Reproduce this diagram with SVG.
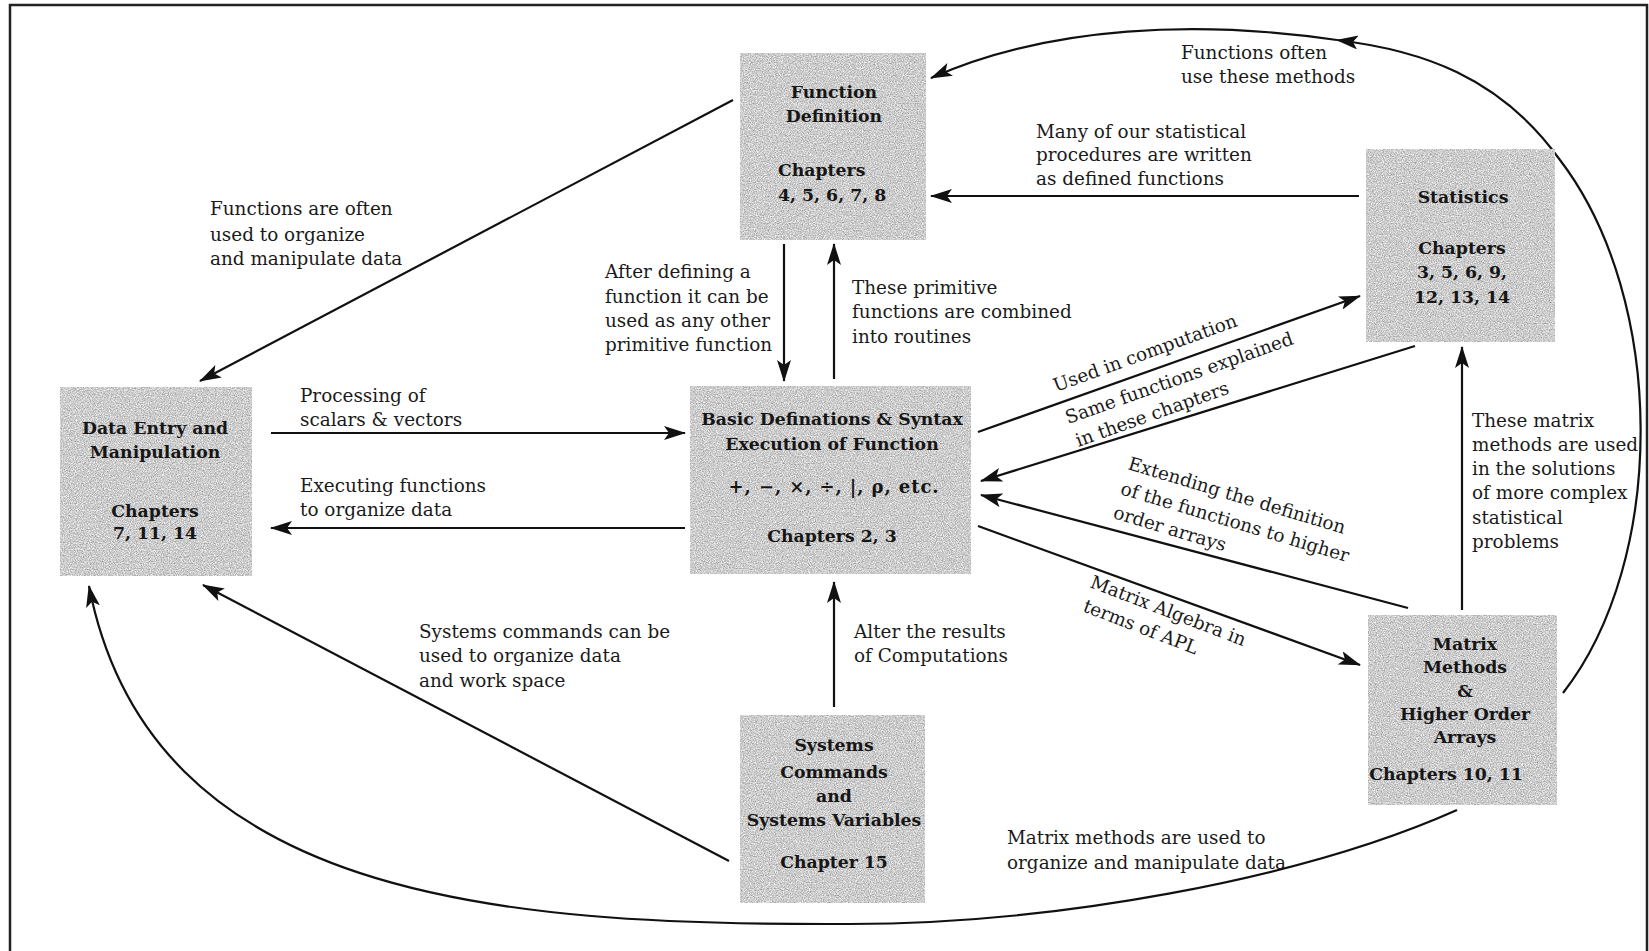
<svg xmlns="http://www.w3.org/2000/svg" width="1649" height="951" viewBox="0 0 1649 951">
<style>
.bg{fill:#ffffff}
.frame{fill:none;stroke:#222;stroke-width:2.5}
.box{fill:#cdcdcd}
.t{font-family:"DejaVu Serif","Liberation Serif",serif;font-weight:bold;font-size:17.3px;fill:#161616}
.l{font-family:"DejaVu Serif","Liberation Serif",serif;font-size:18.4px;fill:#1a1a1a}
.c{fill:none;stroke:#111;stroke-width:2.2}
.a{marker-end:url(#ah)}
</style>
<defs>
<marker id="ah" viewBox="0 0 22 14" refX="21" refY="7" markerWidth="22" markerHeight="14" markerUnits="userSpaceOnUse" orient="auto">
<path d="M0,0 L22,7 L0,14 L5,7 z" fill="#111"/>
</marker>
<filter id="grain" x="0%" y="0%" width="100%" height="100%" color-interpolation-filters="sRGB">
<feTurbulence type="fractalNoise" baseFrequency="0.85" numOctaves="2" seed="7" result="n"/>
<feColorMatrix in="n" type="matrix" values="0.6 0 0 0 0.5  0.6 0 0 0 0.5  0.6 0 0 0 0.5  0 0 0 0 1" result="g"/>
<feComposite in="g" in2="SourceGraphic" operator="in"/>
</filter>
</defs>
<rect class="bg" x="0" y="0" width="1649" height="951"/>
<path class="frame" d="M10,951 V5 H1647 V951"/>

<g id="connectors">
<line class="c a" x1="733" y1="100" x2="200" y2="381"/>
<line class="c a" x1="271" y1="433" x2="685" y2="433"/>
<line class="c a" x1="685" y1="528" x2="271" y2="528"/>
<line class="c a" x1="784" y1="244" x2="784" y2="381"/>
<line class="c a" x1="834" y1="379" x2="834" y2="244"/>
<line class="c a" x1="834" y1="707" x2="834" y2="582"/>
<line class="c a" x1="729" y1="861" x2="203" y2="585"/>
<line class="c a" x1="978" y1="432" x2="1360" y2="296"/>
<line class="c a" x1="1415" y1="346" x2="981" y2="481"/>
<line class="c a" x1="1408" y1="608" x2="981" y2="495"/>
<line class="c a" x1="978" y1="526" x2="1360" y2="665"/>
<line class="c a" x1="1462" y1="610" x2="1462" y2="347"/>
<line class="c a" x1="1359" y1="196" x2="931" y2="196"/>
<path class="c a" d="M1563,693 C1667,560 1667,300 1560,160 C1500,76 1420,50 1337,40"/>
<path class="c a" d="M1337,40 C1200,20 1050,25 931,78"/>
<path class="c a" d="M1457,810 C1300,880 1050,925 842,924 C500,925 150,900 89,586"/>
</g>

<g id="labels">
<text class="l"><tspan x="210" y="215">Functions are often</tspan><tspan x="210" y="241">used to organize</tspan><tspan x="210" y="265">and manipulate data</tspan></text>
<text class="l"><tspan x="300" y="402">Processing of</tspan><tspan x="300" y="426">scalars &amp; vectors</tspan></text>
<text class="l"><tspan x="300" y="492">Executing functions</tspan><tspan x="300" y="516">to organize data</tspan></text>
<text class="l"><tspan x="605" y="278">After defining a</tspan><tspan x="605" y="303">function it can be</tspan><tspan x="605" y="327">used as any other</tspan><tspan x="605" y="351">primitive function</tspan></text>
<text class="l"><tspan x="852" y="294">These primitive</tspan><tspan x="852" y="318">functions are combined</tspan><tspan x="852" y="343">into routines</tspan></text>
<text class="l"><tspan x="854" y="638">Alter the results</tspan><tspan x="854" y="662">of Computations</tspan></text>
<text class="l"><tspan x="419" y="638">Systems commands can be</tspan><tspan x="419" y="662">used to organize data</tspan><tspan x="419" y="687">and work space</tspan></text>
<text class="l"><tspan x="1036" y="138">Many of our statistical</tspan><tspan x="1036" y="161">procedures are written</tspan><tspan x="1036" y="185">as defined functions</tspan></text>
<text class="l"><tspan x="1181" y="59">Functions often</tspan><tspan x="1181" y="83">use these methods</tspan></text>
<text class="l"><tspan x="1472" y="427">These matrix</tspan><tspan x="1472" y="451">methods are used</tspan><tspan x="1472" y="475">in the solutions</tspan><tspan x="1472" y="499">of more complex</tspan><tspan x="1472" y="524">statistical</tspan><tspan x="1472" y="548">problems</tspan></text>
<text class="l"><tspan x="1007" y="844">Matrix methods are used to</tspan><tspan x="1007" y="869">organize and manipulate data</tspan></text>
<text class="l" transform="translate(1056,392) rotate(-20)">Used in computation</text>
<text class="l" transform="translate(1068,424) rotate(-19.5)"><tspan x="0" y="0">Same functions explained</tspan><tspan x="2" y="25">in these chapters</tspan></text>
<text class="l" transform="translate(1127,469) rotate(16.7)"><tspan x="0" y="0">Extending the definition</tspan><tspan x="0" y="26">of the functions to higher</tspan><tspan x="0" y="51">order arrays</tspan></text>
<text class="l" transform="translate(1089,587) rotate(21)"><tspan x="0" y="0">Matrix Algebra in</tspan><tspan x="2" y="25">terms of APL</tspan></text>
</g>

<g id="node-function-definition">
<rect class="box" filter="url(#grain)" x="740" y="53" width="186" height="187"/>
<text class="t" text-anchor="middle"><tspan x="834" y="98">Function</tspan><tspan x="834" y="122">Definition</tspan></text>
<text class="t"><tspan x="778" y="176">Chapters</tspan><tspan x="778" y="201">4, 5, 6, 7, 8</tspan></text>
</g>

<g id="node-statistics">
<rect class="box" filter="url(#grain)" x="1366" y="149" width="189" height="193"/>
<text class="t" text-anchor="middle"><tspan x="1463" y="203">Statistics</tspan><tspan x="1462" y="254">Chapters</tspan><tspan x="1462" y="278">3, 5, 6, 9,</tspan><tspan x="1462" y="303">12, 13, 14</tspan></text>
</g>

<g id="node-data-entry">
<rect class="box" filter="url(#grain)" x="60" y="387" width="192" height="189"/>
<text class="t" text-anchor="middle"><tspan x="155" y="434">Data Entry and</tspan><tspan x="155" y="458">Manipulation</tspan><tspan x="155" y="517">Chapters</tspan><tspan x="155" y="539">7, 11, 14</tspan></text>
</g>

<g id="node-basic">
<rect class="box" filter="url(#grain)" x="690" y="386" width="281" height="188"/>
<text class="t" text-anchor="middle"><tspan x="832" y="425">Basic Definations &amp; Syntax</tspan><tspan x="832" y="450">Execution of Function</tspan><tspan x="834" y="493" font-size="18" letter-spacing="0.9">+, −, ×, ÷, |, ρ, etc.</tspan><tspan x="832" y="542">Chapters 2, 3</tspan></text>
</g>

<g id="node-systems">
<rect class="box" filter="url(#grain)" x="740" y="715" width="185" height="188"/>
<text class="t" text-anchor="middle"><tspan x="834" y="751">Systems</tspan><tspan x="834" y="778">Commands</tspan><tspan x="834" y="802">and</tspan><tspan x="834" y="826">Systems Variables</tspan><tspan x="834" y="868">Chapter 15</tspan></text>
</g>

<g id="node-matrix">
<rect class="box" filter="url(#grain)" x="1368" y="615" width="189" height="190"/>
<text class="t" text-anchor="middle"><tspan x="1465" y="650">Matrix</tspan><tspan x="1465" y="673">Methods</tspan><tspan x="1465" y="697">&amp;</tspan><tspan x="1465" y="720">Higher Order</tspan><tspan x="1465" y="743">Arrays</tspan><tspan x="1446" y="780">Chapters 10, 11</tspan></text>
</g>
</svg>
